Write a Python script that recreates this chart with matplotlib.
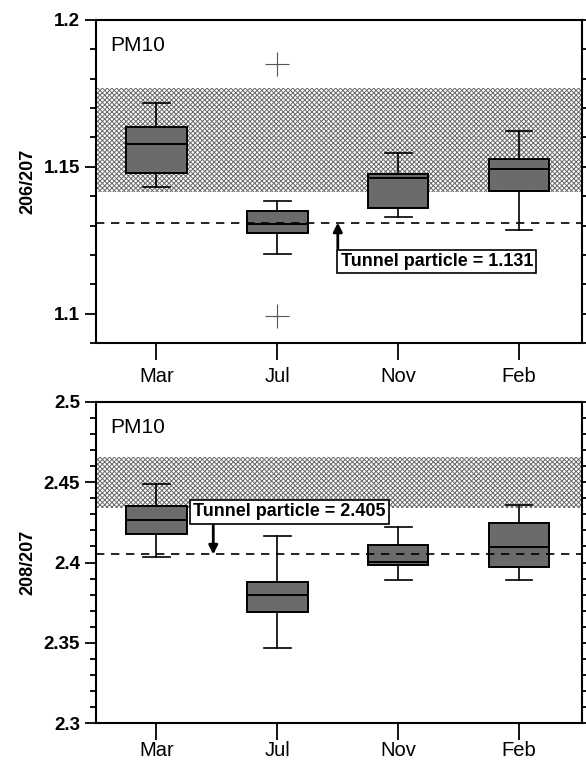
import numpy as np
import matplotlib.pyplot as plt
from matplotlib.ticker import MultipleLocator

months = ["Mar", "Jul", "Nov", "Feb"]

# 206/207 box statistics
r206_whislo = [1.143, 1.1203, 1.1328, 1.1286]
r206_q1 = [1.1479, 1.1274, 1.136, 1.1418]
r206_med = [1.1578, 1.1306, 1.1461, 1.1493]
r206_q3 = [1.1635, 1.1351, 1.1475, 1.1526]
r206_whishi = [1.1717, 1.1384, 1.1546, 1.1622]
r206_fliers = [[], [1.185, 1.0991], [], []]
r206_band = (1.1413, 1.177)
r206_tunnel = 1.131

# 208/207 box statistics
r208_whislo = [2.4036, 2.3466, 2.389, 2.389]
r208_q1 = [2.4177, 2.3694, 2.3984, 2.3974]
r208_med = [2.4264, 2.3798, 2.4005, 2.4098]
r208_q3 = [2.4353, 2.388, 2.4109, 2.4244]
r208_whishi = [2.449, 2.4165, 2.4223, 2.4358]
r208_fliers = [[], [], [], []]
r208_band = (2.4337, 2.4654)
r208_tunnel = 2.405

plt.rcParams['font.family'] = ['Liberation Sans', 'DejaVu Sans']
plt.rcParams['hatch.color'] = '#6a6a6a'
plt.rcParams['hatch.linewidth'] = 0.7

fig = plt.figure(figsize=(5.86, 7.62), dpi=100)
ax1 = fig.add_axes([0.1638, 0.5499, 0.8294, 0.4239])
ax2 = fig.add_axes([0.1638, 0.0508, 0.8294, 0.4220])


def panel(ax, whislo, q1, med, q3, whishi, fliers, band, tunnel, ylim, ylabel,
          tlabel, txy, arrow_x, arrow_from, ticklabels, xpad):
    stats = []
    for i in range(len(months)):
        stats.append(dict(whislo=whislo[i], q1=q1[i], med=med[i], q3=q3[i],
                          whishi=whishi[i], fliers=fliers[i]))
    pos = np.arange(1, len(months) + 1)
    ax.axhspan(band[0], band[1], facecolor='white', edgecolor='#6a6a6a',
               hatch='xxxxxxx', linewidth=0, zorder=0)
    ax.axhline(tunnel, color='black', linestyle=(0, (5, 4)), linewidth=1.2, zorder=3)
    ax.bxp(stats, positions=pos, widths=0.5, patch_artist=True, capwidths=0.22,
           boxprops=dict(facecolor='#6b6b6b', edgecolor='black', linewidth=1.4),
           medianprops=dict(color='black', linewidth=1.4),
           whiskerprops=dict(color='black', linewidth=1.2),
           capprops=dict(color='black', linewidth=1.2),
           flierprops=dict(marker='+', markersize=17, markeredgecolor='#555555',
                           markeredgewidth=0.8),
           zorder=2)
    ax.annotate('', xy=(arrow_x, tunnel), xytext=(arrow_x, arrow_from),
                arrowprops=dict(arrowstyle='-|>', color='black', lw=2,
                                mutation_scale=13, shrinkA=0, shrinkB=0), zorder=4)
    ax.text(txy[0], txy[1], tlabel, ha='center', va='center', fontsize=13,
            fontweight='bold', zorder=5,
            bbox=dict(boxstyle='square,pad=0.18', facecolor='white', edgecolor='black',
                      linewidth=1.2))
    ax.text(0.62, ylim[1] - (ylim[1] - ylim[0]) * 0.08, 'PM10', fontsize=15,
            ha='left', va='center')
    ax.set_xlim(0.5, 4.52)
    ax.set_ylim(*ylim)
    ax.set_xticks(pos)
    ax.set_xticklabels(months, fontsize=14.5)
    ax.yaxis.set_minor_locator(MultipleLocator(0.01))
    ax.set_yticks(ticklabels)
    ax.set_yticklabels([str(t) for t in ticklabels], fontsize=13.5, fontweight='bold')
    ax.tick_params(axis='y', which='both', direction='out', right=True, left=True,
                   width=1.3, length=4)
    ax.tick_params(axis='y', which='major', length=8)
    ax.tick_params(axis='x', direction='out', length=12, width=1.3, pad=xpad)
    for s in ax.spines.values():
        s.set_linewidth(1.5)
    ax.set_ylabel(ylabel, fontsize=13, fontweight='bold', labelpad=5)


panel(ax1, r206_whislo, r206_q1, r206_med, r206_q3, r206_whishi, r206_fliers,
      r206_band, r206_tunnel, (1.09, 1.2), '206/207',
      'Tunnel particle = 1.131', (3.32, 1.1178), 2.5, 1.1222,
      [1.1, 1.15, 1.2], 5)
panel(ax2, r208_whislo, r208_q1, r208_med, r208_q3, r208_whishi, r208_fliers,
      r208_band, r208_tunnel, (2.3, 2.5), '208/207',
      'Tunnel particle = 2.405', (2.10, 2.4315), 1.47, 2.4235,
      [2.3, 2.35, 2.4, 2.45, 2.5], 0.5)

fig.savefig('out.png', dpi=100)
